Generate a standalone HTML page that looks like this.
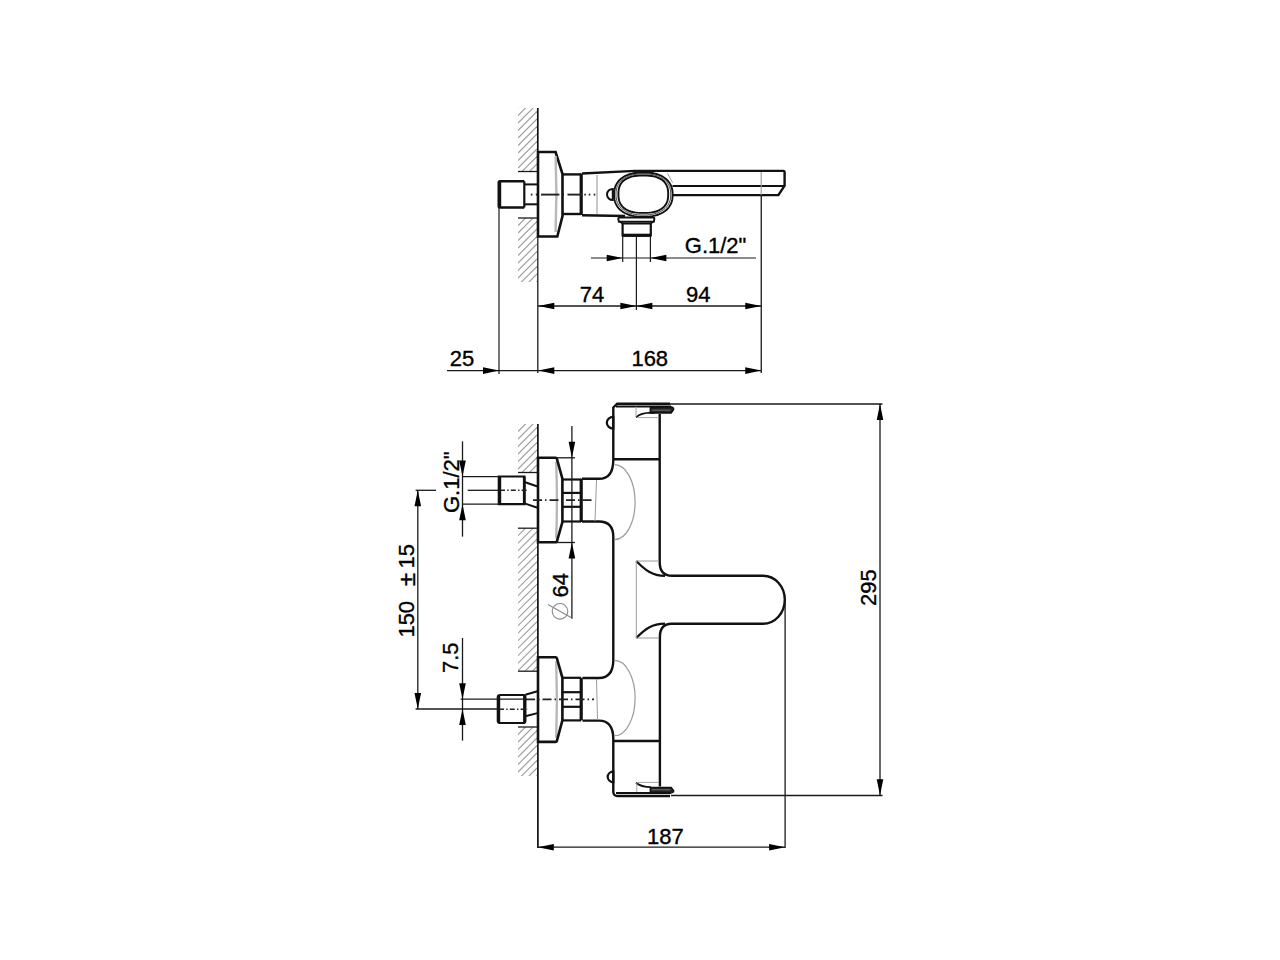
<!DOCTYPE html>
<html><head><meta charset="utf-8"><style>
html,body{margin:0;padding:0;background:#fff;}
svg{display:block;}
text{font-family:"Liberation Sans",sans-serif;fill:#000;stroke:#000;stroke-width:0.35px;}
</style></head><body>
<svg width="1280" height="960" viewBox="0 0 1280 960">
<rect width="1280" height="960" fill="#fff"/>
<clipPath id="h0"><rect x="518" y="108" width="19" height="63"/></clipPath>
<g clip-path="url(#h0)" stroke="#9a9a9a" stroke-width="1.1">
<line x1="518" y1="108" x2="537" y2="89"/>
<line x1="518" y1="115.5" x2="537" y2="96.5"/>
<line x1="518" y1="123.0" x2="537" y2="104.0"/>
<line x1="518" y1="130.5" x2="537" y2="111.5"/>
<line x1="518" y1="138.0" x2="537" y2="119.0"/>
<line x1="518" y1="145.5" x2="537" y2="126.5"/>
<line x1="518" y1="153.0" x2="537" y2="134.0"/>
<line x1="518" y1="160.5" x2="537" y2="141.5"/>
<line x1="518" y1="168.0" x2="537" y2="149.0"/>
<line x1="518" y1="175.5" x2="537" y2="156.5"/>
<line x1="518" y1="183.0" x2="537" y2="164.0"/>
<line x1="518" y1="190.5" x2="537" y2="171.5"/>
</g>
<line x1="518" y1="171.5" x2="537" y2="171.5" stroke="#1a1a1a" stroke-width="1.3" />
<clipPath id="h16"><rect x="518" y="218" width="19" height="64"/></clipPath>
<g clip-path="url(#h16)" stroke="#9a9a9a" stroke-width="1.1">
<line x1="518" y1="218" x2="537" y2="199"/>
<line x1="518" y1="225.5" x2="537" y2="206.5"/>
<line x1="518" y1="233.0" x2="537" y2="214.0"/>
<line x1="518" y1="240.5" x2="537" y2="221.5"/>
<line x1="518" y1="248.0" x2="537" y2="229.0"/>
<line x1="518" y1="255.5" x2="537" y2="236.5"/>
<line x1="518" y1="263.0" x2="537" y2="244.0"/>
<line x1="518" y1="270.5" x2="537" y2="251.5"/>
<line x1="518" y1="278.0" x2="537" y2="259.0"/>
<line x1="518" y1="285.5" x2="537" y2="266.5"/>
<line x1="518" y1="293.0" x2="537" y2="274.0"/>
<line x1="518" y1="300.5" x2="537" y2="281.5"/>
<line x1="518" y1="308.0" x2="537" y2="289.0"/>
</g>
<line x1="518" y1="218" x2="537" y2="218" stroke="#1a1a1a" stroke-width="1.3" />
<line x1="537.8" y1="108" x2="537.8" y2="152" stroke="#111" stroke-width="1.7" />
<line x1="537.8" y1="236.5" x2="537.8" y2="373" stroke="#1a1a1a" stroke-width="1.3" />
<path d="M538,152 L555.6,152 L562.5,174 L562.5,216 L557.3,236.5 L538,236.5 Z" stroke="#111" stroke-width="2.6" fill="none" />
<path d="M555.6,156 Q557.2,194 555.6,232" stroke="#b8b8b8" stroke-width="2.4" fill="none" />
<path d="M524.3,181.2 L500,181.2 Q498.8,181.2 498.8,182.5 L498.8,206.3 Q498.8,207.5 500,207.5 L524.3,207.5" stroke="#111" stroke-width="2.6" fill="none" />
<line x1="499.6" y1="182" x2="499.6" y2="207" stroke="#111" stroke-width="3.2" />
<path d="M524.3,181.2 L524.3,207.5" stroke="#111" stroke-width="2.2" fill="none" />
<line x1="524.5" y1="184.4" x2="538" y2="184.4" stroke="#111" stroke-width="2.0" />
<line x1="524.5" y1="204.3" x2="538" y2="204.3" stroke="#111" stroke-width="2.0" />
<line x1="562.5" y1="174.4" x2="581" y2="174.4" stroke="#111" stroke-width="2.4" />
<line x1="562.5" y1="214" x2="581" y2="214" stroke="#111" stroke-width="2.4" />
<line x1="581.2" y1="173.5" x2="581.2" y2="215" stroke="#111" stroke-width="3.2" />
<path d="M582,173.5 L635,170.9 L783.2,170.9 Q784.6,170.9 784.6,172.3 L784.6,185.6 L778.4,195.1 L672.6,195.1" stroke="#111" stroke-width="2.4" fill="none" />
<path d="M582,215.3 L625,216" stroke="#111" stroke-width="2.4" fill="none" />
<line x1="597" y1="175" x2="597" y2="214" stroke="#9a9a9a" stroke-width="1.1" />
<line x1="530.8" y1="194.6" x2="532.4" y2="194.6" stroke="#222" stroke-width="1.9" />
<line x1="535.8" y1="194.6" x2="537.4" y2="194.6" stroke="#222" stroke-width="1.9" />
<line x1="541" y1="194.6" x2="559.4" y2="194.6" stroke="#222" stroke-width="1.9" />
<line x1="562.3" y1="194.6" x2="563.9" y2="194.6" stroke="#222" stroke-width="1.9" />
<line x1="567.5" y1="194.6" x2="582" y2="194.6" stroke="#222" stroke-width="1.9" />
<line x1="584.3" y1="194.6" x2="585.9" y2="194.6" stroke="#222" stroke-width="1.9" />
<line x1="588.7" y1="194.6" x2="590.3" y2="194.6" stroke="#222" stroke-width="1.9" />
<line x1="593.7" y1="194.6" x2="595.3" y2="194.6" stroke="#222" stroke-width="1.9" />
<path d="M672.65,194.60 L672.55,197.26 L672.26,199.44 L671.78,201.45 L671.11,203.33 L670.25,205.10 L669.21,206.75 L667.98,208.29 L666.59,209.72 L665.03,211.02 L663.30,212.21 L661.42,213.26 L659.39,214.19 L657.20,214.98 L654.88,215.63 L652.40,216.14 L649.74,216.51 L646.86,216.73 L643.35,216.80 L639.84,216.73 L636.96,216.51 L634.30,216.14 L631.82,215.63 L629.50,214.98 L627.31,214.19 L625.28,213.26 L623.40,212.21 L621.67,211.02 L620.11,209.72 L618.72,208.29 L617.49,206.75 L616.45,205.10 L615.59,203.33 L614.92,201.45 L614.44,199.44 L614.15,197.26 L614.05,194.60 L614.15,191.94 L614.44,189.76 L614.92,187.75 L615.59,185.87 L616.45,184.10 L617.49,182.45 L618.72,180.91 L620.11,179.48 L621.67,178.18 L623.40,176.99 L625.28,175.94 L627.31,175.01 L629.50,174.22 L631.82,173.57 L634.30,173.06 L636.96,172.69 L639.84,172.47 L643.35,172.40 L646.86,172.47 L649.74,172.69 L652.40,173.06 L654.88,173.57 L657.20,174.22 L659.39,175.01 L661.42,175.94 L663.30,176.99 L665.03,178.18 L666.59,179.48 L667.98,180.91 L669.21,182.45 L670.25,184.10 L671.11,185.87 L671.78,187.75 L672.26,189.76 L672.55,191.94 Z" stroke="#111" stroke-width="1.9" fill="#fff"/>
<path d="M670.75,194.40 L670.66,196.87 L670.39,198.89 L669.94,200.76 L669.31,202.50 L668.50,204.14 L667.53,205.67 L666.39,207.10 L665.08,208.43 L663.62,209.64 L662.01,210.74 L660.25,211.72 L658.35,212.58 L656.31,213.31 L654.13,213.92 L651.81,214.39 L649.33,214.73 L646.63,214.93 L643.35,215.00 L640.07,214.93 L637.37,214.73 L634.89,214.39 L632.57,213.92 L630.39,213.31 L628.35,212.58 L626.45,211.72 L624.69,210.74 L623.08,209.64 L621.62,208.43 L620.31,207.10 L619.17,205.67 L618.20,204.14 L617.39,202.50 L616.76,200.76 L616.31,198.89 L616.04,196.87 L615.95,194.40 L616.04,191.93 L616.31,189.91 L616.76,188.04 L617.39,186.30 L618.20,184.66 L619.17,183.13 L620.31,181.70 L621.62,180.37 L623.08,179.16 L624.69,178.06 L626.45,177.08 L628.35,176.22 L630.39,175.49 L632.57,174.88 L634.89,174.41 L637.37,174.07 L640.07,173.87 L643.35,173.80 L646.63,173.87 L649.33,174.07 L651.81,174.41 L654.13,174.88 L656.31,175.49 L658.35,176.22 L660.25,177.08 L662.01,178.06 L663.62,179.16 L665.08,180.37 L666.39,181.70 L667.53,183.13 L668.50,184.66 L669.31,186.30 L669.94,188.04 L670.39,189.91 L670.66,191.93 Z" stroke="#111" stroke-width="0.8" fill="none"/>
<path d="M668.20,194.20 L668.12,196.86 L667.90,198.81 L667.52,200.54 L666.99,202.13 L666.32,203.59 L665.49,204.94 L664.53,206.19 L663.42,207.33 L662.17,208.37 L660.78,209.31 L659.26,210.14 L657.60,210.87 L655.80,211.48 L653.85,211.99 L651.74,212.39 L649.44,212.67 L646.84,212.84 L643.30,212.90 L639.76,212.84 L637.16,212.67 L634.86,212.39 L632.75,211.99 L630.80,211.48 L629.00,210.87 L627.34,210.14 L625.82,209.31 L624.43,208.37 L623.18,207.33 L622.07,206.19 L621.11,204.94 L620.28,203.59 L619.61,202.13 L619.08,200.54 L618.70,198.81 L618.48,196.86 L618.40,194.20 L618.48,191.54 L618.70,189.59 L619.08,187.86 L619.61,186.27 L620.28,184.81 L621.11,183.46 L622.07,182.21 L623.18,181.07 L624.43,180.03 L625.82,179.09 L627.34,178.26 L629.00,177.53 L630.80,176.92 L632.75,176.41 L634.86,176.01 L637.16,175.73 L639.76,175.56 L643.30,175.50 L646.84,175.56 L649.44,175.73 L651.74,176.01 L653.85,176.41 L655.80,176.92 L657.60,177.53 L659.26,178.26 L660.78,179.09 L662.17,180.03 L663.42,181.07 L664.53,182.21 L665.49,183.46 L666.32,184.81 L666.99,186.27 L667.52,187.86 L667.90,189.59 L668.12,191.54 Z" stroke="#111" stroke-width="1.9" fill="none"/>
<path d="M612.8,188.9 A5.8,5.6 0 0 0 612.8,200.1 Z" stroke="#111" stroke-width="2.0" fill="none" />
<line x1="672.5" y1="186" x2="784" y2="186" stroke="#111" stroke-width="2.2" />
<line x1="667.5" y1="173.3" x2="672.5" y2="182.5" stroke="#9a9a9a" stroke-width="1.0" />
<line x1="761.2" y1="172" x2="761.2" y2="195" stroke="#9a9a9a" stroke-width="1.1" />
<path d="M619.5,217.6 L653,217.6 Q654.5,217.6 654.3,219.2 L653.8,221.7 L619,221.7 L618.3,219.2 Q618.2,217.6 619.5,217.6 Z" stroke="#111" stroke-width="2.0" fill="none" />
<path d="M620.3,221.8 L622.6,223.6 L650.8,223.6 L652.6,221.8" stroke="#111" stroke-width="1.8" fill="none" />
<path d="M622.6,223.6 L622.6,235.5 L650.8,235.5 L650.8,223.6" stroke="#111" stroke-width="2.2" fill="none" />
<line x1="622.6" y1="235.3" x2="650.8" y2="235.3" stroke="#111" stroke-width="3.2" />
<line x1="622.7" y1="236" x2="622.7" y2="262" stroke="#1a1a1a" stroke-width="1.2" />
<line x1="650.4" y1="236" x2="650.4" y2="262" stroke="#1a1a1a" stroke-width="1.2" />
<line x1="636.4" y1="236" x2="636.4" y2="310" stroke="#1a1a1a" stroke-width="1.2" />
<line x1="499" y1="208" x2="499" y2="374" stroke="#1a1a1a" stroke-width="1.2" />
<line x1="761.25" y1="195" x2="761.25" y2="373" stroke="#1a1a1a" stroke-width="1.3" />
<line x1="591" y1="258" x2="756" y2="258" stroke="#1a1a1a" stroke-width="1.2" />
<path d="M622.70,258.00 L606.70,254.70 L606.70,261.30 Z" fill="#000" stroke="none"/>
<path d="M650.40,258.00 L666.40,254.70 L666.40,261.30 Z" fill="#000" stroke="none"/>
<text x="684.8" y="253.0" font-size="22" text-anchor="start">G.1/2"</text>
<line x1="538" y1="306" x2="761.25" y2="306" stroke="#1a1a1a" stroke-width="1.3" />
<path d="M538.30,306.00 L554.30,302.70 L554.30,309.30 Z" fill="#000" stroke="none"/>
<path d="M636.40,306.00 L620.40,302.70 L620.40,309.30 Z" fill="#000" stroke="none"/>
<path d="M636.40,306.00 L652.40,302.70 L652.40,309.30 Z" fill="#000" stroke="none"/>
<path d="M761.25,306.00 L745.25,302.70 L745.25,309.30 Z" fill="#000" stroke="none"/>
<text x="579.8" y="302.0" font-size="22" text-anchor="start">74</text>
<text x="685.9" y="302.0" font-size="22" text-anchor="start">94</text>
<line x1="447" y1="370.6" x2="761.25" y2="370.6" stroke="#1a1a1a" stroke-width="1.3" />
<path d="M499.00,370.60 L483.00,367.30 L483.00,373.90 Z" fill="#000" stroke="none"/>
<path d="M538.30,370.60 L554.30,367.30 L554.30,373.90 Z" fill="#000" stroke="none"/>
<path d="M761.25,370.60 L745.25,367.30 L745.25,373.90 Z" fill="#000" stroke="none"/>
<text x="449.7" y="366.2" font-size="22" text-anchor="start">25</text>
<text x="631.4" y="366.0" font-size="22" text-anchor="start">168</text>
<clipPath id="h89"><rect x="518" y="424" width="19" height="48.5"/></clipPath>
<g clip-path="url(#h89)" stroke="#9a9a9a" stroke-width="1.1">
<line x1="518" y1="424" x2="537" y2="405"/>
<line x1="518" y1="431.5" x2="537" y2="412.5"/>
<line x1="518" y1="439.0" x2="537" y2="420.0"/>
<line x1="518" y1="446.5" x2="537" y2="427.5"/>
<line x1="518" y1="454.0" x2="537" y2="435.0"/>
<line x1="518" y1="461.5" x2="537" y2="442.5"/>
<line x1="518" y1="469.0" x2="537" y2="450.0"/>
<line x1="518" y1="476.5" x2="537" y2="457.5"/>
<line x1="518" y1="484.0" x2="537" y2="465.0"/>
<line x1="518" y1="491.5" x2="537" y2="472.5"/>
</g>
<clipPath id="h102"><rect x="518" y="528.2" width="19" height="142.79999999999995"/></clipPath>
<g clip-path="url(#h102)" stroke="#9a9a9a" stroke-width="1.1">
<line x1="518" y1="528.2" x2="537" y2="509.20000000000005"/>
<line x1="518" y1="535.7" x2="537" y2="516.7"/>
<line x1="518" y1="543.2" x2="537" y2="524.2"/>
<line x1="518" y1="550.7" x2="537" y2="531.7"/>
<line x1="518" y1="558.2" x2="537" y2="539.2"/>
<line x1="518" y1="565.7" x2="537" y2="546.7"/>
<line x1="518" y1="573.2" x2="537" y2="554.2"/>
<line x1="518" y1="580.7" x2="537" y2="561.7"/>
<line x1="518" y1="588.2" x2="537" y2="569.2"/>
<line x1="518" y1="595.7" x2="537" y2="576.7"/>
<line x1="518" y1="603.2" x2="537" y2="584.2"/>
<line x1="518" y1="610.7" x2="537" y2="591.7"/>
<line x1="518" y1="618.2" x2="537" y2="599.2"/>
<line x1="518" y1="625.7" x2="537" y2="606.7"/>
<line x1="518" y1="633.2" x2="537" y2="614.2"/>
<line x1="518" y1="640.7" x2="537" y2="621.7"/>
<line x1="518" y1="648.2" x2="537" y2="629.2"/>
<line x1="518" y1="655.7" x2="537" y2="636.7"/>
<line x1="518" y1="663.2" x2="537" y2="644.2"/>
<line x1="518" y1="670.7" x2="537" y2="651.7"/>
<line x1="518" y1="678.2" x2="537" y2="659.2"/>
<line x1="518" y1="685.7" x2="537" y2="666.7"/>
<line x1="518" y1="693.2" x2="537" y2="674.2"/>
</g>
<clipPath id="h128"><rect x="518" y="727" width="19" height="49"/></clipPath>
<g clip-path="url(#h128)" stroke="#9a9a9a" stroke-width="1.1">
<line x1="518" y1="727" x2="537" y2="708"/>
<line x1="518" y1="734.5" x2="537" y2="715.5"/>
<line x1="518" y1="742.0" x2="537" y2="723.0"/>
<line x1="518" y1="749.5" x2="537" y2="730.5"/>
<line x1="518" y1="757.0" x2="537" y2="738.0"/>
<line x1="518" y1="764.5" x2="537" y2="745.5"/>
<line x1="518" y1="772.0" x2="537" y2="753.0"/>
<line x1="518" y1="779.5" x2="537" y2="760.5"/>
<line x1="518" y1="787.0" x2="537" y2="768.0"/>
<line x1="518" y1="794.5" x2="537" y2="775.5"/>
<line x1="518" y1="802.0" x2="537" y2="783.0"/>
</g>
<line x1="518" y1="472.5" x2="537" y2="472.5" stroke="#1a1a1a" stroke-width="1.3" />
<line x1="518" y1="528.2" x2="537" y2="528.2" stroke="#1a1a1a" stroke-width="1.3" />
<line x1="518" y1="671.2" x2="537" y2="671.2" stroke="#1a1a1a" stroke-width="1.3" />
<line x1="518" y1="727" x2="537" y2="727" stroke="#1a1a1a" stroke-width="1.3" />
<line x1="537.9" y1="424" x2="537.9" y2="848" stroke="#111" stroke-width="1.7" />
<path d="M556.2,461.8 Q557.6,500.04999999999995 556.2,538.3" stroke="#b8b8b8" stroke-width="2.4" fill="none" />
<path d="M538,457.8 L555.6,457.8 Q556.6,457.8 556.9,458.8 L562.4,478.6 L562.4,522 L556.9,541.3 Q556.6,542.3 555.6,542.3 L538,542.3 Z" stroke="#111" stroke-width="2.6" fill="none" />
<line x1="562.6" y1="479.5" x2="581" y2="479.5" stroke="#111" stroke-width="2.2" />
<line x1="562.6" y1="492.9" x2="581" y2="492.9" stroke="#111" stroke-width="2.2" />
<line x1="562.6" y1="506.8" x2="581" y2="506.8" stroke="#111" stroke-width="2.2" />
<line x1="562.6" y1="521.5" x2="581" y2="521.5" stroke="#111" stroke-width="2.2" />
<line x1="581.2" y1="478.6" x2="581.2" y2="522" stroke="#111" stroke-width="3.2" />
<path d="M556.2,661.3 Q557.6,699.5999999999999 556.2,737.9" stroke="#b8b8b8" stroke-width="2.4" fill="none" />
<path d="M538,657.3 L555.6,657.3 Q556.6,657.3 556.9,658.3 L562.4,677.8 L562.4,720.4 L556.9,740.9 Q556.6,741.9 555.6,741.9 L538,741.9 Z" stroke="#111" stroke-width="2.6" fill="none" />
<line x1="562.6" y1="677.8" x2="581" y2="677.8" stroke="#111" stroke-width="2.2" />
<line x1="562.6" y1="692.2" x2="581" y2="692.2" stroke="#111" stroke-width="2.2" />
<line x1="562.6" y1="706.8" x2="581" y2="706.8" stroke="#111" stroke-width="2.2" />
<line x1="562.6" y1="720.4" x2="581" y2="720.4" stroke="#111" stroke-width="2.2" />
<line x1="581.2" y1="677.8" x2="581.2" y2="720.4" stroke="#111" stroke-width="3.2" />
<path d="M612.8,408 L617.2,403.7 L670,403.7 M613.3,407 L613.3,459.4 Q613.3,478.8 599,478.8 L582,478.8 M582,521.5 L599,521.5 Q613.3,521.5 613.3,537 L613.3,659.5 Q613.3,678 599,678 L582.5,678 M582.5,720.6 L599,720.6 Q613.3,720.6 613.3,739 L613.3,792 Q613.6,796 617.5,796 L670,796 M659.7,414 L659.7,562 Q659.7,575.8 672,575.8 L763,575.8 A21.8,23.95 0 0 1 763,623.7 L671.5,623.7 Q659.9,623.7 659.9,637 L659.9,786.5 " stroke="#111" stroke-width="2.4" fill="none" />
<line x1="616" y1="406.5" x2="671" y2="406.5" stroke="#111" stroke-width="2.0" />
<line x1="616" y1="793.1" x2="671" y2="793.1" stroke="#111" stroke-width="2.0" />
<line x1="613.3" y1="459.2" x2="659.7" y2="459.2" stroke="#111" stroke-width="2.6" />
<line x1="613.3" y1="741" x2="659.7" y2="741" stroke="#111" stroke-width="2.6" />
<path d="M650.3,407.6 L670.5,406.8 Q674.3,407.2 673.6,409.6 L671.2,413 L650.3,413 Z" stroke="#111" stroke-width="1.4" fill="#222" />
<line x1="651.5" y1="410.2" x2="670.5" y2="410.2" stroke="#888" stroke-width="0.8" />
<path d="M636,417.3 Q641,412.8 651,412.6 L655,412.9" stroke="#111" stroke-width="1.8" fill="none" />
<line x1="636" y1="406.5" x2="636" y2="417" stroke="#9a9a9a" stroke-width="0.9" />
<line x1="638" y1="417.6" x2="659" y2="417.6" stroke="#9a9a9a" stroke-width="0.9" />
<path d="M650.3,792.3 L670.5,793 Q674.3,792.6 673.6,790.6 L671.2,787.4 L650.3,787.4 Z" stroke="#111" stroke-width="1.4" fill="#222" />
<line x1="651.5" y1="789.8" x2="670.5" y2="789.8" stroke="#888" stroke-width="0.8" />
<path d="M636,782.7 Q641,787 651,787.2" stroke="#111" stroke-width="1.8" fill="none" />
<line x1="636.8" y1="782.8" x2="636.8" y2="792" stroke="#9a9a9a" stroke-width="0.9" />
<line x1="638" y1="782.4" x2="659" y2="782.4" stroke="#9a9a9a" stroke-width="0.9" />
<path d="M613.3,416.9 A6.5,5.85 0 0 0 613.3,428.6 Z" stroke="#111" stroke-width="2.2" fill="none" />
<path d="M613.3,771.4 A6.5,5.5 0 0 0 613.3,782.3 Z" stroke="#111" stroke-width="2.2" fill="none" />
<path d="M614.6,464.6 A20.5,37.5 0 0 1 614.6,539.6" stroke="#9a9a9a" stroke-width="1.2" fill="none" />
<path d="M614.6,660.4 A20.5,37.65 0 0 1 614.6,735.7" stroke="#9a9a9a" stroke-width="1.2" fill="none" />
<line x1="596.5" y1="480" x2="595" y2="521" stroke="#9a9a9a" stroke-width="1.0" />
<line x1="596.5" y1="679" x2="597.5" y2="720" stroke="#9a9a9a" stroke-width="1.0" />
<path d="M636.3,561 C645,570 652,575.8 665,575.8" stroke="#111" stroke-width="2.2" fill="none" />
<path d="M636.3,638 C645,629 652,623.7 665,623.7" stroke="#111" stroke-width="2.2" fill="none" />
<line x1="636.3" y1="561" x2="636.3" y2="638" stroke="#9a9a9a" stroke-width="1.0" />
<line x1="636.3" y1="561" x2="659" y2="561" stroke="#9a9a9a" stroke-width="1.0" />
<line x1="636.3" y1="638" x2="659" y2="638" stroke="#9a9a9a" stroke-width="1.0" />
<line x1="533" y1="500.2" x2="594" y2="500.2" stroke="#222" stroke-width="1.8" stroke-dasharray="9,3,1.5,3"/>
<line x1="526" y1="699.3" x2="594" y2="699.3" stroke="#222" stroke-width="1.8" stroke-dasharray="9,3,1.5,3"/>
<path d="M498.8,476.5 L524.5,476.5 L524.5,504.2 L498.8,504.2 Z" stroke="#111" stroke-width="2.2" fill="none" />
<line x1="499.6" y1="477" x2="499.6" y2="504" stroke="#111" stroke-width="3.2" />
<line x1="524.2" y1="477" x2="524.2" y2="504" stroke="#111" stroke-width="2.6" />
<path d="M524.5,482 L537.5,486.5 M524.5,503.4 L537.5,507.8" stroke="#111" stroke-width="2.0" fill="none" />
<path d="M500.5,695 L523.5,695 Q525.3,695 525.3,697 L525.3,721 Q525.3,723 523.5,723 L500.5,723 Q497.8,723 497.8,721 L497.8,697 Q497.8,695 500.5,695 Z" stroke="#111" stroke-width="2.2" fill="none" />
<line x1="498.6" y1="696" x2="498.6" y2="722" stroke="#111" stroke-width="3.2" />
<line x1="524.6" y1="696" x2="524.6" y2="722" stroke="#111" stroke-width="3.0" />
<path d="M525.3,694.7 L537.5,691.2 M525.3,716.2 L537.5,713.1" stroke="#111" stroke-width="2.0" fill="none" />
<line x1="462.5" y1="476.6" x2="498.8" y2="476.6" stroke="#1a1a1a" stroke-width="1.3" />
<line x1="462.5" y1="504.2" x2="498.8" y2="504.2" stroke="#1a1a1a" stroke-width="1.3" />
<line x1="462.5" y1="441.4" x2="462.5" y2="536.6" stroke="#1a1a1a" stroke-width="1.3" />
<path d="M462.50,476.60 L459.20,460.60 L465.80,460.60 Z" fill="#000" stroke="none"/>
<path d="M462.50,504.20 L459.20,520.20 L465.80,520.20 Z" fill="#000" stroke="none"/>
<text x="458.5" y="513.0" font-size="22" text-anchor="start" transform="rotate(-90 458.5 513.0)">G.1/2"</text>
<line x1="415.6" y1="490.3" x2="436" y2="490.3" stroke="#1a1a1a" stroke-width="1.3" />
<line x1="467.7" y1="490.3" x2="498" y2="490.3" stroke="#1a1a1a" stroke-width="1.3" />
<line x1="500" y1="490.3" x2="528" y2="490.3" stroke="#222" stroke-width="1.5" stroke-dasharray="5,2.2,1.4,2.2"/>
<line x1="417.8" y1="490.2" x2="417.8" y2="709" stroke="#1a1a1a" stroke-width="1.3" />
<path d="M417.80,490.30 L414.50,506.30 L421.10,506.30 Z" fill="#000" stroke="none"/>
<path d="M417.80,709.00 L414.50,693.00 L421.10,693.00 Z" fill="#000" stroke="none"/>
<line x1="415.6" y1="709" x2="497.8" y2="709" stroke="#1a1a1a" stroke-width="1.3" />
<line x1="499" y1="709.3" x2="528" y2="709.3" stroke="#222" stroke-width="1.5" stroke-dasharray="5,2.2,1.4,2.2"/>
<text x="414.0" y="637.6" font-size="22" text-anchor="start" transform="rotate(-90 414.0 637.6)">150</text>
<text x="415.4" y="586.05" font-size="24" text-anchor="start" transform="rotate(-90 415.4 586.05)">±</text>
<text x="414.3" y="568.38" font-size="22" text-anchor="start" transform="rotate(-90 414.3 568.38)">15</text>
<line x1="460.6" y1="699.2" x2="525" y2="699.2" stroke="#1a1a1a" stroke-width="1.3" />
<line x1="462.5" y1="638" x2="462.5" y2="740.6" stroke="#1a1a1a" stroke-width="1.3" />
<path d="M462.50,699.20 L459.20,683.20 L465.80,683.20 Z" fill="#000" stroke="none"/>
<path d="M462.50,709.00 L459.20,725.00 L465.80,725.00 Z" fill="#000" stroke="none"/>
<text x="458.2" y="673.0" font-size="22" text-anchor="start" transform="rotate(-90 458.2 673.0)">7.5</text>
<line x1="556" y1="457.8" x2="575" y2="457.8" stroke="#1a1a1a" stroke-width="1.3" />
<line x1="556" y1="542.5" x2="575" y2="542.5" stroke="#1a1a1a" stroke-width="1.3" />
<line x1="571.9" y1="426" x2="571.9" y2="618.8" stroke="#1a1a1a" stroke-width="1.3" />
<path d="M571.90,457.80 L568.60,441.80 L575.20,441.80 Z" fill="#000" stroke="none"/>
<path d="M571.90,542.50 L568.60,558.50 L575.20,558.50 Z" fill="#000" stroke="none"/>
<text x="568.0" y="597.52" font-size="22" text-anchor="start" transform="rotate(-90 568.0 597.52)">64</text>
<circle cx="560" cy="611.3" r="7.8" stroke="#888" stroke-width="1.1" fill="none"/>
<line x1="548" y1="604.4" x2="571" y2="617.5" stroke="#888" stroke-width="1.1" />
<line x1="669" y1="404" x2="882.5" y2="404" stroke="#1a1a1a" stroke-width="1.3" />
<line x1="671" y1="795.5" x2="882.5" y2="795.5" stroke="#1a1a1a" stroke-width="1.3" />
<line x1="880" y1="404" x2="880" y2="795.3" stroke="#1a1a1a" stroke-width="1.3" />
<path d="M880.00,404.00 L876.70,420.00 L883.30,420.00 Z" fill="#000" stroke="none"/>
<path d="M880.00,795.30 L876.70,779.30 L883.30,779.30 Z" fill="#000" stroke="none"/>
<text x="875.79" y="606.0" font-size="22" text-anchor="start" transform="rotate(-90 875.79 606.0)">295</text>
<line x1="785.1" y1="600" x2="785.1" y2="848" stroke="#1a1a1a" stroke-width="1.3" />
<line x1="537.8" y1="847.2" x2="785.1" y2="847.2" stroke="#1a1a1a" stroke-width="1.3" />
<path d="M537.80,847.20 L553.80,843.90 L553.80,850.50 Z" fill="#000" stroke="none"/>
<path d="M785.10,847.20 L769.10,843.90 L769.10,850.50 Z" fill="#000" stroke="none"/>
<text x="647.0" y="843.6" font-size="22" text-anchor="start">187</text>
</svg></body></html>
